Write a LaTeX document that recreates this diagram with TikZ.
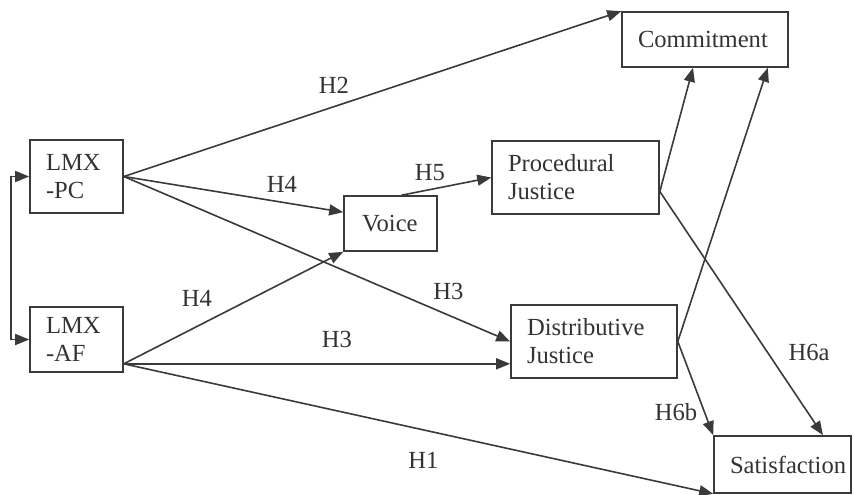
\documentclass[tikz,border=0pt]{standalone}
\usepackage{fontspec}
\setmainfont{Liberation Serif}
\usetikzlibrary{arrows.meta,calc}
\definecolor{ln}{HTML}{3A3A3A}
\definecolor{tx}{HTML}{333333}
\begin{document}
\begin{tikzpicture}[x=0.5pt,y=-0.5pt,
  font=\fontsize{12.3}{14}\selectfont,
  bx/.style n args={3}{draw=ln, line width=0.8pt, text=tx, minimum width=#1, minimum height=#2, text width=#3, inner sep=0pt, align=left},
  lbl/.style={text=tx, inner sep=0pt},
  arr/.style={draw=ln, line width=0.8pt, -{Triangle[length=7pt,width=5.5pt]}},
  darr/.style={draw=ln, line width=0.8pt, {Triangle[length=7pt,width=5.5pt]}-{Triangle[length=7pt,width=5.5pt]}}]
\useasboundingbox (0,0) rectangle (854,494);
% boxes
\node[bx={46.5pt}{36.5pt}{30.5pt}] (pc) at (76.5,176.5) {LMX\\-PC};
\node[bx={46.5pt}{32.5pt}{30.5pt}] (af) at (76.5,339.5) {LMX\\-AF};
\node[bx={83pt}{27.5pt}{67pt}] (com) at (705,39.5) {Commitment};
\node[bx={46.5pt}{27.5pt}{28.5pt}] (voice) at (390.5,223.5) {Voice};
\node[bx={83.5pt}{36.5pt}{67.5pt}] (proc) at (575.5,177.5) {Procedural\\Justice};
\node[bx={83pt}{36.5pt}{67pt}] (dist) at (594,341.5) {Distributive\\Justice};
\node[bx={68.5pt}{28.5pt}{52.5pt}] (sat) at (782.5,464.5) {Satisfaction};
% anchor points
\coordinate (afs) at ($(af.south east)+(0,-9)$);
\coordinate (ps) at ($(proc.east)+(0,14)$);
% connectors
\draw[darr] (pc.west) -- ++(-18,0) |- (af.west);
\draw[arr] (pc.east) -- (com.north west);
\draw[arr] (pc.east) -- ($(voice.north west)!0.3!(voice.south west)$);
\draw[arr] (pc.east) -- (dist.west);
\draw[arr] (afs) -- (voice.south west);
\draw[arr] (afs) -- (afs -| dist.west);
\draw[arr] (afs) -- (sat.south west);
\draw[arr] ($(voice.north)+(11,0)$) -- (proc.west);
\draw[arr] (ps) -- ($(com.south)+(-12,0)$);
\draw[arr] (ps) -- ($(sat.north)+(40.5,0)$);
\draw[arr] (dist.east) -- ($(com.south east)+(-21,0)$);
\draw[arr] (dist.east) -- (sat.north west);
% labels
\node[lbl] (h2) at (334,85) {H2};
\node[lbl] (h4a) at (282,184) {H4};
\node[lbl] (h5) at (430,173) {H5};
\node[lbl] (h4b) at (197,298) {H4};
\node[lbl] (h3b) at (337,339) {H3};
\node[lbl] (h3a) at (448.5,291) {H3};
\node[lbl] (h6a) at (809,352) {H6a};
\node[lbl] (h6b) at (676,412) {H6b};
\node[lbl] (h1) at (423.5,460.5) {H1};
\end{tikzpicture}
\end{document}
